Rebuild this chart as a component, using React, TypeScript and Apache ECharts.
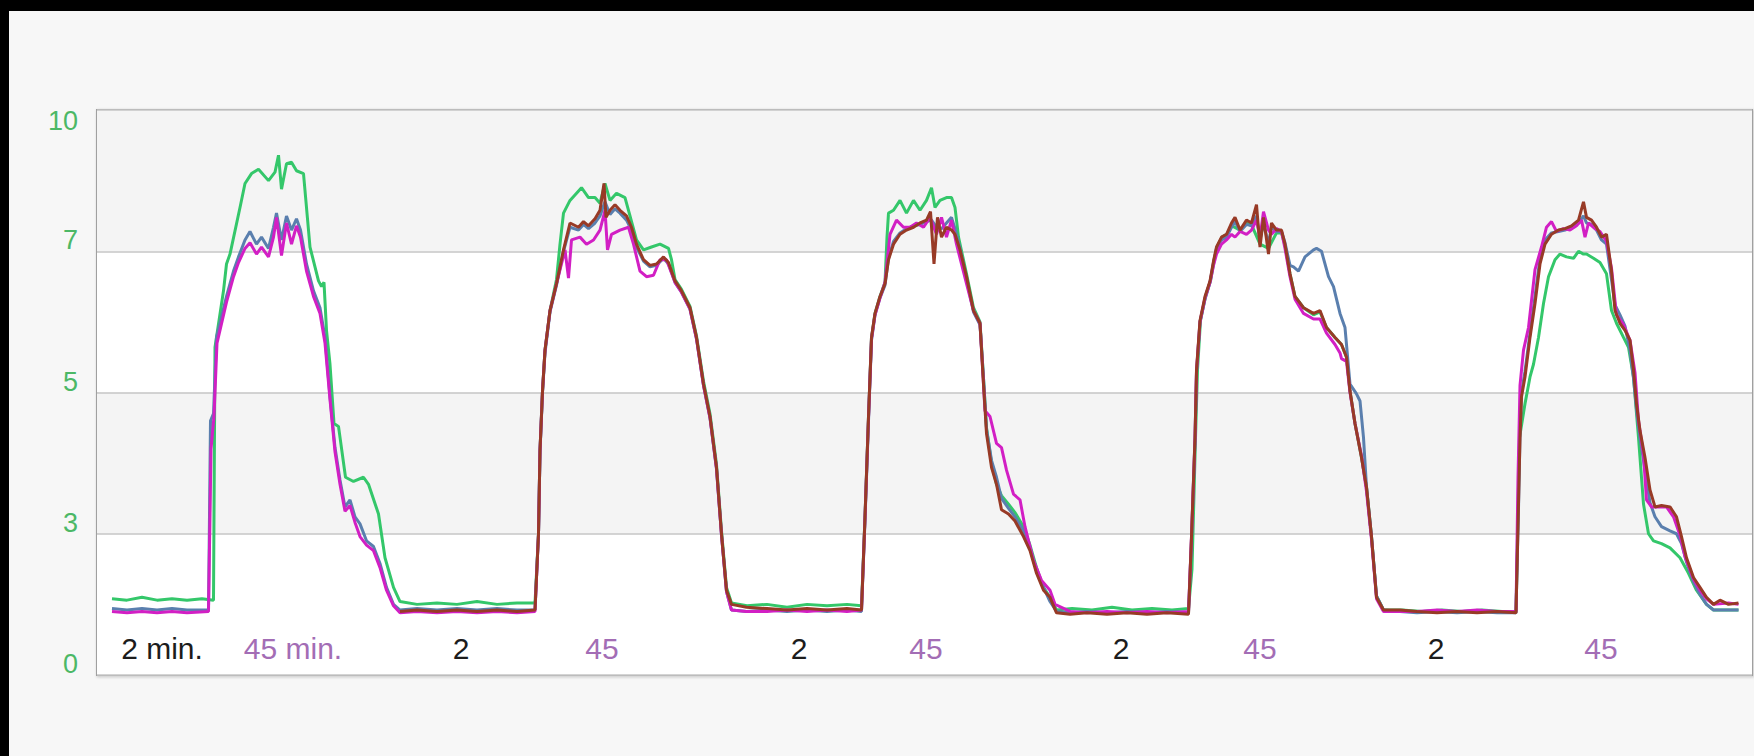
import React, { useEffect, useRef } from "react";
import * as echarts from "echarts";

// y axis: equally spaced gridlines carrying the labels below (axis units 0..4)
const yTickLabels = ["0", "3", "5", "7", "10"];

// x axis labels written inside the plot (time units)
const xLabelValues = [13, 39.2, 72.8, 101, 140.4, 165.8, 204.8, 232.6, 267.8, 300.8];
const xLabelTexts = ["2 min.", "45 min.", "2", "45", "2", "45", "2", "45", "2", "45"];
const xLabelKinds = ["rest", "load", "rest", "load", "rest", "load", "rest", "load", "rest", "load"];

const greenData = [
  [3, 0.54], [6, 0.53], [9, 0.55], [12, 0.53], [15, 0.54], [18, 0.53], [21, 0.54], [23.3, 0.53],
  [23.6, 2.32], [25.3, 2.72], [25.9, 2.91], [26.6, 2.98], [28.6, 3.31], [29.6, 3.48], [30.9, 3.55], [32.3, 3.58],
  [34.3, 3.5], [35.6, 3.56], [36.3, 3.68], [36.9, 3.44], [37.9, 3.62], [38.9, 3.63], [39.9, 3.57], [41.3, 3.55],
  [42.6, 3.03], [44.3, 2.79], [44.9, 2.75], [45.4, 2.78], [45.9, 2.44], [46.6, 2.2], [47.4, 1.78], [48.3, 1.76],
  [49.7, 1.4], [51.3, 1.37], [53.3, 1.4], [54.3, 1.35], [56.3, 1.14], [57.6, 0.83], [59.3, 0.62], [60.6, 0.52],
  [64, 0.5], [68, 0.51], [72, 0.5], [76, 0.52], [80, 0.5], [84, 0.51], [87.6, 0.51],
  [88.3, 1.0], [88.6, 1.59], [89.1, 2.01], [89.6, 2.3], [90.6, 2.58], [91.9, 2.8], [92.6, 3.05], [93.3, 3.27],
  [94.6, 3.36], [96.9, 3.45], [98.3, 3.38], [99.6, 3.38], [100.6, 3.34], [101.6, 3.48], [102.6, 3.36], [103.9, 3.41],
  [105.6, 3.38], [106.6, 3.25], [107.9, 3.08], [109.3, 3.01], [110.9, 3.03], [112.6, 3.05], [114.3, 3.02], [114.9, 2.94],
  [115.6, 2.8], [116.9, 2.73], [118.6, 2.61], [119.9, 2.4], [121.3, 2.08], [122.6, 1.85], [123.9, 1.49], [124.9, 1.02],
  [125.9, 0.62], [126.9, 0.51],
  [130, 0.49], [134, 0.5], [138, 0.48], [142, 0.5], [146, 0.49], [150, 0.5], [152.9, 0.49],
  [153.6, 1.12], [154.3, 1.83], [154.9, 2.39], [155.6, 2.56], [156.6, 2.68], [157.6, 2.78], [158.0, 3.1], [158.3, 3.27],
  [159.3, 3.29], [160.6, 3.36], [161.9, 3.27], [163.3, 3.36], [164.6, 3.29], [165.9, 3.36], [166.9, 3.45], [167.6, 3.31],
  [168.6, 3.36], [169.9, 3.38], [170.9, 3.38], [171.6, 3.31], [172.3, 3.1], [173.9, 2.84], [175.3, 2.6], [176.6, 2.5],
  [177.3, 2.1], [177.9, 1.75], [178.9, 1.5], [179.9, 1.35], [180.9, 1.27], [182.3, 1.21], [183.6, 1.15], [185.3, 1.05],
  [186.6, 0.92], [187.9, 0.76], [189.3, 0.62], [190.6, 0.55], [191.9, 0.46],
  [195, 0.47], [199, 0.46], [203, 0.48], [207, 0.46], [211, 0.47], [215, 0.46], [218.3, 0.47],
  [219.0, 0.75], [219.7, 1.68], [220.1, 2.16], [220.7, 2.51], [221.7, 2.68], [222.7, 2.79], [223.4, 2.93], [224.0, 3.03],
  [225.0, 3.1], [226.0, 3.12], [227.0, 3.18], [228.6, 3.15], [229.9, 3.2], [231.0, 3.18], [232.6, 3.05], [234.3, 3.02],
  [235.9, 3.13], [236.9, 3.13], [237.6, 3.04], [238.6, 2.84], [239.6, 2.68], [241.3, 2.6], [243.3, 2.55], [244.6, 2.57],
  [245.9, 2.46], [247.6, 2.39], [248.9, 2.34], [249.9, 2.25], [250.6, 2.01], [251.6, 1.78], [252.9, 1.54], [253.9, 1.33],
  [254.9, 0.98], [255.9, 0.56], [257.3, 0.46],
  [261, 0.46], [265, 0.45], [269, 0.46], [273, 0.45], [277, 0.46], [281, 0.45], [283.8, 0.45],
  [284.5, 1.68], [285.6, 1.92], [286.6, 2.11], [287.3, 2.2], [288.3, 2.39], [289.3, 2.63], [290.3, 2.82], [291.6, 2.94],
  [292.6, 2.98], [293.9, 2.96], [295.3, 2.95], [296.3, 3.0], [297.3, 2.98], [297.9, 2.98], [299.3, 2.95], [300.6, 2.92],
  [301.9, 2.84], [302.9, 2.58], [303.9, 2.49], [305.3, 2.39], [306.3, 2.32], [307.3, 2.11], [308.3, 1.68], [309.3, 1.21],
  [310.3, 1.0], [311.3, 0.95], [312.9, 0.93], [314.6, 0.9], [316.6, 0.83], [318.3, 0.72], [319.9, 0.6], [321.9, 0.5],
  [323.3, 0.46], [326, 0.46], [328.3, 0.46],
];

const blueData = [
  [3, 0.47], [6, 0.46], [9, 0.47], [12, 0.46], [15, 0.47], [18, 0.46], [22.3, 0.46],
  [22.7, 1.8], [23.3, 1.85], [23.9, 2.39], [25.9, 2.68], [27.3, 2.86], [28.3, 2.96], [29.6, 3.08], [30.6, 3.14],
  [31.9, 3.05], [32.9, 3.1], [34.3, 3.02], [35.3, 3.17], [35.9, 3.27], [36.9, 3.08], [37.9, 3.25], [38.9, 3.15],
  [39.9, 3.23], [40.7, 3.15], [41.9, 2.91], [43.3, 2.72], [44.6, 2.6], [45.6, 2.39], [46.6, 1.97], [47.6, 1.61],
  [48.6, 1.38], [49.6, 1.19], [50.6, 1.24], [51.6, 1.12], [52.6, 1.07], [53.9, 0.95], [55.3, 0.91], [56.6, 0.79],
  [57.9, 0.62], [59.3, 0.5], [60.6, 0.46],
  [64, 0.47], [68, 0.46], [72, 0.47], [76, 0.46], [80, 0.47], [84, 0.46], [87.6, 0.46],
  [88.3, 1.0], [88.6, 1.58], [89.1, 2.0], [89.6, 2.28], [90.6, 2.57], [91.9, 2.76], [93.3, 3.0], [94.6, 3.17],
  [96.3, 3.15], [97.3, 3.19], [98.3, 3.16], [99.6, 3.2], [100.6, 3.25], [101.6, 3.35], [102.6, 3.26], [103.6, 3.3],
  [104.6, 3.27], [105.9, 3.22], [106.9, 3.15], [107.9, 3.03], [109.3, 2.93], [110.6, 2.89], [111.9, 2.9], [113.3, 2.95],
  [114.3, 2.91], [115.6, 2.78], [116.9, 2.71], [118.6, 2.59], [119.9, 2.38], [121.3, 2.05], [122.6, 1.82], [123.9, 1.46],
  [124.9, 0.99], [125.9, 0.59], [126.9, 0.46], [129.9, 0.45],
  [134, 0.46], [138, 0.45], [142, 0.46], [146, 0.45], [150, 0.46], [152.9, 0.45],
  [153.6, 1.1], [154.3, 1.8], [154.9, 2.37], [155.6, 2.55], [156.6, 2.67], [157.6, 2.76], [158.3, 2.95], [159.3, 3.07],
  [160.6, 3.13], [161.9, 3.16], [163.3, 3.18], [164.6, 3.19], [165.9, 3.21], [166.9, 3.22], [167.9, 3.17], [168.9, 3.16],
  [169.9, 3.2], [170.9, 3.24], [171.6, 3.16], [172.6, 3.02], [173.9, 2.8], [175.3, 2.57], [176.6, 2.48], [177.3, 2.1],
  [177.9, 1.74], [178.9, 1.52], [179.9, 1.4], [180.9, 1.25], [182.3, 1.18], [183.6, 1.12], [185.3, 1.02], [186.6, 0.9],
  [187.9, 0.74], [189.3, 0.62], [190.6, 0.52], [191.9, 0.45], [194.6, 0.44],
  [198, 0.45], [202, 0.44], [206, 0.45], [210, 0.44], [214, 0.45], [218.3, 0.44],
  [218.9, 0.97], [219.6, 1.66], [219.9, 2.14], [220.6, 2.5], [221.6, 2.66], [222.6, 2.78], [223.3, 2.92], [223.9, 3.02],
  [224.9, 3.08], [225.9, 3.1], [226.9, 3.17], [227.6, 3.21], [228.6, 3.14], [229.9, 3.19], [230.9, 3.18], [231.9, 3.25],
  [232.6, 3.08], [233.3, 3.2], [234.3, 3.05], [234.9, 3.17], [235.9, 3.14], [236.9, 3.14], [237.6, 3.06], [238.6, 2.9],
  [239.3, 2.89], [240.3, 2.86], [241.6, 2.96], [243.3, 3.01], [243.9, 3.02], [244.9, 3.0], [246.3, 2.82], [247.3, 2.75],
  [248.6, 2.56], [249.6, 2.46], [250.6, 2.06], [251.9, 1.99], [252.6, 1.94], [253.3, 1.68], [253.9, 1.33], [254.9, 0.98],
  [255.9, 0.56], [257.3, 0.46], [260.6, 0.45],
  [264, 0.44], [268, 0.45], [272, 0.44], [276, 0.45], [280, 0.44], [283.8, 0.44],
  [284.3, 1.18], [284.6, 1.7], [284.9, 2.0], [285.6, 2.15], [286.6, 2.42], [287.6, 2.68], [288.6, 2.95], [289.6, 3.08],
  [290.9, 3.13], [292.3, 3.14], [293.6, 3.15], [294.9, 3.17], [296.3, 3.2], [297.3, 3.25], [297.9, 3.2], [298.9, 3.19],
  [299.9, 3.15], [300.9, 3.08], [301.9, 3.05], [302.9, 2.8], [303.6, 2.62], [304.6, 2.55], [305.6, 2.47], [306.6, 2.3],
  [307.3, 2.1], [307.9, 1.88], [308.6, 1.68], [309.6, 1.45], [310.6, 1.22], [311.6, 1.12], [312.9, 1.05], [314.6, 1.02],
  [315.9, 1.0], [316.9, 0.93], [317.9, 0.8], [319.3, 0.66], [320.6, 0.57], [321.9, 0.5], [323.3, 0.46], [326.3, 0.46],
  [328.3, 0.46],
];

const magentaData = [
  [3, 0.45], [6, 0.44], [9, 0.45], [12, 0.44], [15, 0.45], [18, 0.44], [22.3, 0.45],
  [22.8, 1.6], [23.4, 1.83], [24.0, 2.35], [25.9, 2.64], [27.3, 2.82], [28.3, 2.92], [29.6, 3.02], [30.6, 3.06],
  [31.9, 2.98], [32.9, 3.03], [34.3, 2.96], [35.3, 3.1], [35.9, 3.24], [36.9, 2.97], [37.9, 3.2], [38.9, 3.05],
  [39.9, 3.18], [40.7, 3.1], [41.9, 2.86], [43.3, 2.68], [44.6, 2.56], [45.6, 2.35], [46.6, 1.95], [47.6, 1.58],
  [48.6, 1.35], [49.6, 1.16], [50.6, 1.2], [51.6, 1.08], [52.6, 0.98], [53.9, 0.92], [55.3, 0.88], [56.6, 0.76],
  [57.9, 0.6], [59.3, 0.49], [60.6, 0.44],
  [64, 0.45], [68, 0.44], [72, 0.45], [76, 0.44], [80, 0.45], [84, 0.44], [87.6, 0.45],
  [88.3, 1.0], [88.6, 1.59], [89.1, 2.01], [89.6, 2.3], [90.6, 2.58], [91.9, 2.77], [93.6, 3.01], [94.3, 2.81],
  [94.9, 3.08], [96.6, 3.1], [97.9, 3.05], [99.3, 3.08], [100.6, 3.15], [101.6, 3.29], [102.1, 3.01], [102.9, 3.12],
  [104.6, 3.15], [106.3, 3.17], [107.3, 3.05], [108.6, 2.86], [109.9, 2.82], [111.3, 2.83], [112.6, 2.94], [113.9, 2.94],
  [115.6, 2.78], [116.9, 2.71], [118.6, 2.59], [119.9, 2.38], [121.3, 2.05], [122.6, 1.82], [123.9, 1.46], [124.9, 0.99],
  [125.9, 0.59], [126.9, 0.46], [129.9, 0.45],
  [134, 0.45], [138, 0.46], [142, 0.45], [146, 0.46], [150, 0.45], [152.9, 0.46],
  [153.6, 1.11], [154.3, 1.82], [154.9, 2.38], [155.6, 2.55], [156.6, 2.67], [157.6, 2.78], [158.6, 3.12], [159.9, 3.22],
  [161.3, 3.17], [162.6, 3.17], [163.9, 3.2], [165.3, 3.17], [166.6, 3.24], [167.9, 3.12], [168.9, 3.24], [169.9, 3.1],
  [170.9, 3.22], [171.9, 3.05], [173.9, 2.77], [175.3, 2.58], [176.6, 2.49], [177.6, 1.87], [178.6, 1.83], [179.9, 1.64],
  [180.9, 1.61], [181.9, 1.45], [183.3, 1.28], [184.6, 1.24], [185.6, 1.05], [187.3, 0.81], [188.9, 0.67], [190.6, 0.6],
  [191.6, 0.5], [194.6, 0.45],
  [198, 0.44], [202, 0.45], [206, 0.44], [210, 0.45], [214, 0.44], [218.3, 0.45],
  [218.9, 0.98], [219.6, 1.67], [219.9, 2.15], [220.6, 2.5], [221.6, 2.67], [222.6, 2.78], [223.3, 2.9], [223.9, 2.98],
  [224.9, 3.05], [225.9, 3.08], [226.9, 3.12], [227.6, 3.1], [228.6, 3.14], [229.9, 3.12], [230.9, 3.15], [231.9, 3.22],
  [232.6, 3.1], [233.3, 3.28], [234.3, 3.15], [234.9, 3.12], [235.9, 3.16], [236.9, 3.14], [237.6, 3.02], [238.6, 2.82],
  [239.6, 2.66], [241.3, 2.56], [243.3, 2.52], [244.6, 2.52], [245.9, 2.42], [247.6, 2.34], [248.6, 2.28], [248.9, 2.24],
  [249.9, 2.22], [250.6, 2.0], [251.6, 1.78], [252.9, 1.55], [253.9, 1.3], [254.9, 0.96], [255.9, 0.54], [257.3, 0.45],
  [260.6, 0.45],
  [264, 0.45], [268, 0.46], [272, 0.45], [276, 0.46], [280, 0.45], [283.8, 0.45],
  [284.2, 1.4], [284.6, 2.05], [285.3, 2.3], [286.3, 2.46], [287.6, 2.87], [288.9, 3.03], [289.9, 3.17], [290.9, 3.21],
  [291.9, 3.14], [293.3, 3.16], [294.6, 3.15], [295.9, 3.18], [296.9, 3.22], [297.6, 3.1], [298.3, 3.2], [299.6, 3.16],
  [300.6, 3.14], [301.9, 3.07], [302.9, 2.88], [303.9, 2.55], [305.3, 2.48], [306.6, 2.37], [307.6, 2.14], [308.3, 1.8],
  [309.3, 1.56], [309.9, 1.24], [310.9, 1.19], [312.3, 1.19], [313.9, 1.19], [315.3, 1.12], [316.6, 0.99], [317.6, 0.84],
  [319.3, 0.68], [320.6, 0.6], [321.9, 0.54], [323.3, 0.5], [326.3, 0.51], [328.3, 0.5],
];

const brownData = [
  [60.6, 0.45], [64, 0.46], [68, 0.45], [72, 0.46], [76, 0.45], [80, 0.46], [84, 0.45], [87.6, 0.46],
  [88.3, 1.0], [88.6, 1.59], [89.1, 2.01], [89.6, 2.3], [90.6, 2.58], [91.9, 2.77], [93.3, 3.01], [94.6, 3.2],
  [96.3, 3.17], [97.3, 3.21], [98.3, 3.18], [99.6, 3.23], [100.6, 3.29], [101.4, 3.48], [101.8, 3.24], [102.6, 3.29],
  [103.6, 3.33], [104.6, 3.29], [105.9, 3.25], [106.9, 3.17], [107.9, 3.05], [109.3, 2.94], [110.6, 2.9], [111.9, 2.91],
  [113.3, 2.96], [114.3, 2.92], [115.6, 2.79], [116.9, 2.72], [118.6, 2.6], [119.9, 2.39], [121.3, 2.06], [122.6, 1.83],
  [123.9, 1.47], [124.9, 1.0], [125.9, 0.6], [126.9, 0.5], [129.9, 0.48],
  [134, 0.47], [138, 0.46], [142, 0.47], [146, 0.46], [150, 0.47], [152.9, 0.46],
  [153.6, 1.12], [154.3, 1.83], [154.9, 2.39], [155.6, 2.56], [156.6, 2.68], [157.6, 2.77], [158.3, 2.94], [159.3, 3.05],
  [160.6, 3.12], [161.9, 3.15], [163.3, 3.17], [164.6, 3.2], [165.9, 3.22], [166.7, 3.28], [167.4, 2.91], [168.1, 3.24],
  [168.9, 3.1], [169.9, 3.17], [170.9, 3.15], [171.6, 3.12], [172.6, 3.01], [173.9, 2.82], [175.3, 2.58], [176.6, 2.49],
  [177.3, 2.06], [177.9, 1.71], [178.9, 1.47], [179.9, 1.35], [180.9, 1.17], [182.3, 1.14], [183.6, 1.09], [185.3, 0.98],
  [186.6, 0.88], [187.9, 0.72], [189.3, 0.6], [190.6, 0.55], [191.9, 0.44], [194.6, 0.43],
  [198, 0.44], [202, 0.43], [206, 0.44], [210, 0.43], [214, 0.44], [218.3, 0.43],
  [218.9, 0.98], [219.6, 1.68], [219.9, 2.16], [220.6, 2.51], [221.6, 2.68], [222.6, 2.79], [223.3, 2.93], [223.9, 3.03],
  [224.9, 3.1], [225.9, 3.12], [226.9, 3.2], [227.6, 3.24], [228.6, 3.15], [229.9, 3.22], [230.9, 3.2], [231.9, 3.33],
  [232.6, 3.03], [233.3, 3.24], [234.3, 2.98], [234.9, 3.2], [235.9, 3.15], [236.9, 3.15], [237.6, 3.05], [238.6, 2.84],
  [239.6, 2.68], [241.3, 2.6], [243.3, 2.56], [244.6, 2.58], [245.9, 2.46], [247.6, 2.39], [248.9, 2.34], [249.9, 2.25],
  [250.6, 2.01], [251.6, 1.78], [252.9, 1.54], [253.9, 1.33], [254.9, 0.98], [255.9, 0.55], [257.3, 0.46], [260.6, 0.46],
  [264, 0.45], [268, 0.44], [272, 0.45], [276, 0.44], [280, 0.45], [283.8, 0.44],
  [284.3, 1.21], [284.6, 1.68], [284.9, 1.97], [285.6, 2.11], [286.6, 2.39], [287.6, 2.63], [288.6, 2.91], [289.6, 3.05],
  [290.9, 3.12], [292.3, 3.15], [293.6, 3.16], [294.9, 3.18], [296.3, 3.22], [297.3, 3.35], [297.9, 3.24], [298.9, 3.22],
  [299.9, 3.17], [300.9, 3.1], [301.9, 3.12], [302.9, 2.86], [303.6, 2.58], [304.6, 2.49], [305.6, 2.44], [306.6, 2.37],
  [307.3, 2.16], [307.9, 1.92], [308.6, 1.73], [309.6, 1.54], [310.6, 1.31], [311.6, 1.19], [312.9, 1.2], [314.6, 1.19],
  [315.9, 1.12], [316.9, 0.98], [317.9, 0.83], [319.3, 0.69], [320.6, 0.62], [321.9, 0.55], [323.3, 0.5], [324.6, 0.53],
  [326.3, 0.5], [328.3, 0.51],
];

const FONT = "'Liberation Sans', Arial, sans-serif";

export default function App() {
  const ref = useRef<HTMLDivElement | null>(null);

  useEffect(() => {
    if (!ref.current) return;
    const chart = echarts.init(ref.current, null, { renderer: "svg" });

    const lineSeries = (name: string, data: number[][], color: string, z: number) => ({
      name,
      type: "line",
      data,
      showSymbol: false,
      symbol: "none",
      z,
      lineStyle: { color, width: 3 },
      itemStyle: { color },
      emphasis: { disabled: true },
    });

    chart.setOption({
      animation: false,
      backgroundColor: "#f7f7f7",
      graphic: [
        { type: "rect", shape: { x: 0, y: 0, width: 1754, height: 11 }, style: { fill: "#000000" }, z: 100 },
        { type: "rect", shape: { x: 0, y: 0, width: 9, height: 756 }, style: { fill: "#000000" }, z: 100 },
      ],
      grid: {
        left: 97,
        top: 110,
        width: 1655,
        height: 565,
        show: true,
        backgroundColor: "transparent",
        borderColor: "#a0a0a0",
        borderWidth: 2,
        shadowColor: "rgba(0,0,0,0.25)",
        shadowBlur: 3,
        shadowOffsetX: 1,
        shadowOffsetY: 1,
      },
      xAxis: {
        type: "value",
        min: 0,
        max: 331,
        axisLine: { show: false },
        axisTick: { show: false },
        splitLine: { show: false },
        axisLabel: {
          inside: true,
          margin: 12,
          customValues: xLabelValues,
          fontFamily: FONT,
          fontSize: 30,
          formatter: (v: number) => {
            let best = 0;
            for (let i = 1; i < xLabelValues.length; i++) {
              if (Math.abs(xLabelValues[i] - v) < Math.abs(xLabelValues[best] - v)) best = i;
            }
            const key = xLabelKinds[best] === "rest" ? "k" : "p";
            return `{${key}|${xLabelTexts[best]}}`;
          },
          rich: {
            k: { color: "#1c1c1c", fontSize: 30, fontFamily: FONT },
            p: { color: "#a36db5", fontSize: 30, fontFamily: FONT },
          },
        },
      },
      yAxis: {
        type: "value",
        min: 0,
        max: 4,
        interval: 1,
        axisLine: { show: false },
        axisTick: { show: false },
        splitLine: { show: true, lineStyle: { color: "#c6c6c6", width: 1.5 } },
        splitArea: { show: true, areaStyle: { color: ["#ffffff", "#f4f4f4"] } },
        axisLabel: {
          margin: 19,
          fontFamily: FONT,
          fontSize: 27,
          color: "#4cb866",
          formatter: (v: number) => {
            const t = yTickLabels[Math.round(v)] ?? "";
            return v >= 4 ? `{t|${t}}` : `{b|${t}}`;
          },
          rich: {
            t: { color: "#4cb866", fontSize: 27, fontFamily: FONT, padding: [22, 0, 0, 0] },
            b: { color: "#4cb866", fontSize: 27, fontFamily: FONT, padding: [0, 0, 22, 0] },
          },
        },
      },
      series: [
        lineSeries("green", greenData, "#34c76a", 2),
        lineSeries("blue", blueData, "#5a7fae", 3),
        lineSeries("magenta", magentaData, "#d21fc4", 4),
        lineSeries("brown", brownData, "#983a26", 5),
      ],
    });

    return () => chart.dispose();
  }, []);

  return (
    <div
      ref={ref}
      style={{ position: "fixed", left: 0, top: 0, width: 1754, height: 756 }}
    />
  );
}
